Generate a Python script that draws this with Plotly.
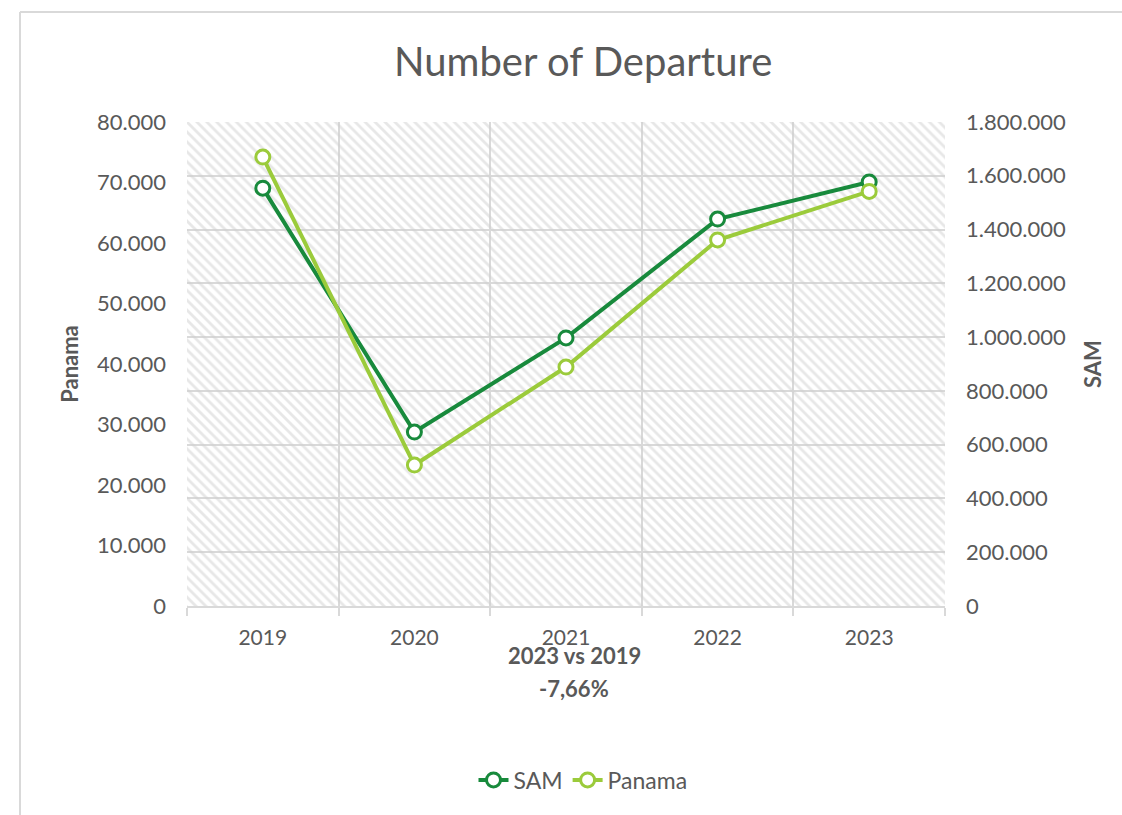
import plotly.graph_objects as go

years = ["2019", "2020", "2021", "2022", "2023"]
sam_departures = [1554000, 647000, 997000, 1439000, 1577000]
panama_departures = [74200, 23300, 39500, 60500, 68520]
sam_axis_max = 1800000
panama_axis_max = 80000
hatch_heights = [sam_axis_max] * len(years)

GRAY = "#595959"
GRID = "#d9d9d9"
FONT = "Lato"
SAM_COLOR = "#188A3C"
PAN_COLOR = "#9BCB3B"

fig = go.Figure()

# hatched plot-area background
fig.add_trace(go.Bar(
    x=years, y=hatch_heights, yaxis="y", width=1,
    marker=dict(color="rgba(0,0,0,0)", line=dict(width=0),
                pattern=dict(shape="\\", fgcolor="#cfcfcf", bgcolor="rgba(0,0,0,0)",
                             size=7, solidity=0.4)),
    showlegend=False, hoverinfo="skip",
))

fig.add_trace(go.Scatter(
    x=years, y=sam_departures, name="SAM", yaxis="y", mode="lines+markers",
    line=dict(color=SAM_COLOR, width=4),
    marker=dict(size=14, color="white", line=dict(color=SAM_COLOR, width=3)),
))
fig.add_trace(go.Scatter(
    x=years, y=panama_departures, name="Panama", yaxis="y2", mode="lines+markers",
    line=dict(color=PAN_COLOR, width=4),
    marker=dict(size=14, color="white", line=dict(color=PAN_COLOR, width=3)),
))

L, R, T, B = 187, 1122 - 945, 122, 815 - 606
W, H = 1122 - L - R, 815 - T - B

def px(x):
    return (x - L) / W

def py(y):
    return (815 - B - y) / H

fig.update_layout(
    width=1122, height=815,
    margin=dict(l=L, r=R, t=T, b=B),
    paper_bgcolor="white", plot_bgcolor="white",
    separators=",.",
    bargap=0,
    font=dict(family=FONT, color=GRAY, size=22),
    title=dict(text="Number of Departure", x=px(581), xanchor="center",
               y=1 - 62 / 815, yanchor="middle",
               font=dict(family=FONT, size=40, color=GRAY)),
    xaxis=dict(type="category", tickson="boundaries", showgrid=True, gridcolor=GRID,
               gridwidth=2, ticks="outside", ticklen=8, tickcolor=GRID, tickwidth=2,
               showline=True, linecolor=GRID, linewidth=2, ticklabelstandoff=12,
               tickfont=dict(size=21, color=GRAY), range=[-0.5, 4.5]),
    yaxis=dict(side="right", range=[0, sam_axis_max], dtick=200000, tickformat=",",
               showgrid=True, gridcolor=GRID, gridwidth=2, zeroline=False,
               ticks="", ticklabelstandoff=20,
               tickfont=dict(size=22, color=GRAY),
               title=dict(text="<b>SAM</b>", font=dict(size=22, color=GRAY), standoff=20)),
    yaxis2=dict(overlaying="y", side="left", range=[0, panama_axis_max], dtick=10000,
                tickformat=",", showgrid=False, zeroline=False, ticks="",
                ticklabelstandoff=20,
                tickfont=dict(size=22, color=GRAY),
                title=dict(text="<b>Panama</b>", font=dict(size=22, color=GRAY), standoff=12)),
    legend=dict(orientation="h", x=px(583), xanchor="center", y=py(780), yanchor="middle",
                font=dict(size=23, color=GRAY), bgcolor="rgba(0,0,0,0)"),
    annotations=[
        dict(text="<b>2023 vs 2019</b>", xref="paper", yref="paper", x=px(574), y=py(655),
             xanchor="center", yanchor="middle", showarrow=False,
             font=dict(size=22, color=GRAY, family=FONT)),
        dict(text="<b>-7,66%</b>", xref="paper", yref="paper", x=px(574), y=py(688),
             xanchor="center", yanchor="middle", showarrow=False,
             font=dict(size=22, color=GRAY, family=FONT)),
    ],
    shapes=[
        dict(type="line", xref="paper", yref="paper", x0=px(20), x1=px(1122), y0=py(12), y1=py(12),
             line=dict(color=GRID, width=2)),
        dict(type="line", xref="paper", yref="paper", x0=px(20), x1=px(20), y0=py(12), y1=py(815),
             line=dict(color=GRID, width=2)),
    ],
)

fig.write_html("out.html", config={"displayModeBar": False},
               post_script="document.body.style.margin='0';")
